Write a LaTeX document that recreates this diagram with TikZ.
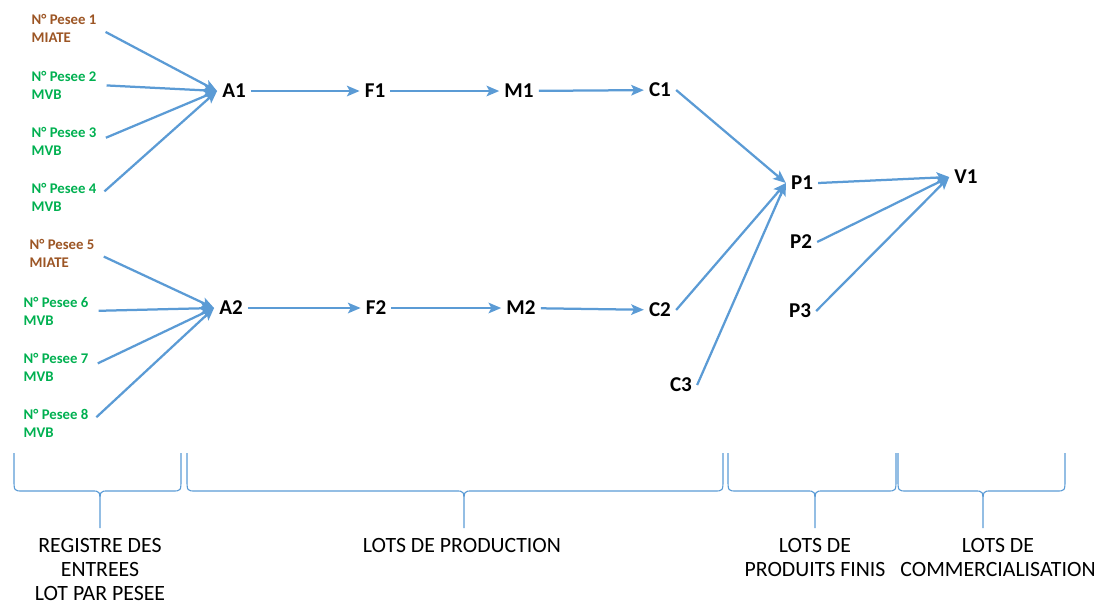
\documentclass[tikz,border=0pt]{standalone}
\usepackage{fontspec}
\setmainfont{Carlito}
\usepackage{xcolor}
\usepackage{tikz}
\usetikzlibrary{arrows.meta}

\definecolor{fleche}{HTML}{5B9BD5}
\definecolor{vert}{HTML}{00B050}
\definecolor{brun}{HTML}{9C5524}

\tikzset{
  lot/.style={font=\fontsize{15}{17}\selectfont\bfseries, inner sep=3.5pt},
  pesee/.style={font=\fontsize{10.5}{12.8}\selectfont\bfseries, align=left, anchor=west, inner sep=1pt},
  etape/.style={font=\fontsize{15.5}{17.3}\selectfont, align=center, inner sep=2pt},
  lien/.style={draw=fleche, line width=1.6pt, -{Stealth[length=9pt, width=7.5pt, inset=2pt]}},
  entree/.style={lien, shorten <=6pt},
  accolade/.style={draw=fleche, line width=0.8pt}
}

\begin{document}
\begin{tikzpicture}[x=0.025cm, y=-0.025cm]
  \useasboundingbox (0,0) rectangle (1104,608);

  % Registre des entrees
  \node[pesee, text=brun] (p1) at (30,28)  {N° Pesee 1\\MIATE};
  \node[pesee, text=vert] (p2) at (30,85)  {N° Pesee 2\\MVB};
  \node[pesee, text=vert] (p3) at (30,141) {N° Pesee 3\\MVB};
  \node[pesee, text=vert] (p4) at (30,197) {N° Pesee 4\\MVB};
  \node[pesee, text=brun] (p5) at (28,253) {N° Pesee 5\\MIATE};
  \node[pesee, text=vert] (p6) at (22,311) {N° Pesee 6\\MVB};
  \node[pesee, text=vert] (p7) at (22,367) {N° Pesee 7\\MVB};
  \node[pesee, text=vert] (p8) at (22,423) {N° Pesee 8\\MVB};

  % Lots de production
  \node[lot] (a1) at (234,91)  {A1};
  \node[lot] (f1) at (375,91)  {F1};
  \node[lot] (m1) at (519,91)  {M1};
  \node[lot] (c1) at (660,90)  {C1};
  \node[lot] (a2) at (231,308) {A2};
  \node[lot] (f2) at (376,308) {F2};
  \node[lot] (m2) at (521,308) {M2};
  \node[lot] (c2) at (660,310) {C2};
  \node[lot] (c3) at (681,385) {C3};

  % Produits finis et commercialisation
  \node[lot] (pf1) at (802,183) {P1};
  \node[lot] (pf2) at (801,242) {P2};
  \node[lot] (pf3) at (800,311) {P3};
  \node[lot] (v1)  at (966,177) {V1};

  % Fleches
  \foreach \p in {p1,p2,p3,p4}
    \draw[entree] (\p.east) -- (a1.west);
  \foreach \p in {p5,p6,p7,p8}
    \draw[entree] (\p.east) -- (a2.west);
  \draw[lien] (a1) -- (f1);
  \draw[lien] (f1) -- (m1);
  \draw[lien] (m1) -- (c1);
  \draw[lien] (a2) -- (f2);
  \draw[lien] (f2) -- (m2);
  \draw[lien] (m2) -- (c2);
  \foreach \c in {c1,c2,c3}
    \draw[lien] (\c.east) -- (pf1.west);
  \foreach \p in {pf1,pf2,pf3}
    \draw[lien] (\p.east) -- (v1.west);

  % Accolades
  \foreach \l/\t/\r in {14/100/181, 187/464/723, 728/815/896, 898/983/1065}
    \draw[accolade] (\l,453) -- (\l,479) .. controls (\l,491) .. (\l+9,491)
      -- (\t-8,491) .. controls (\t,491) .. (\t,505) -- (\t,528)
      (\t,505) .. controls (\t,491) .. (\t+8,491)
      -- (\r-9,491) .. controls (\r,491) .. (\r,479) -- (\r,453);

  % Etapes
  \node[etape, anchor=north] (registre) at (100,535) {REGISTRE DES\\ENTREES\\LOT PAR PESEE};
  \node[etape, anchor=north] (production) at (462,535) {LOTS DE PRODUCTION};
  \node[etape, anchor=north] (finis) at (815,535) {LOTS DE\\PRODUITS FINIS};
  \node[etape, anchor=north] (commerce) at (998,535) {LOTS DE\\COMMERCIALISATION};
\end{tikzpicture}
\end{document}
